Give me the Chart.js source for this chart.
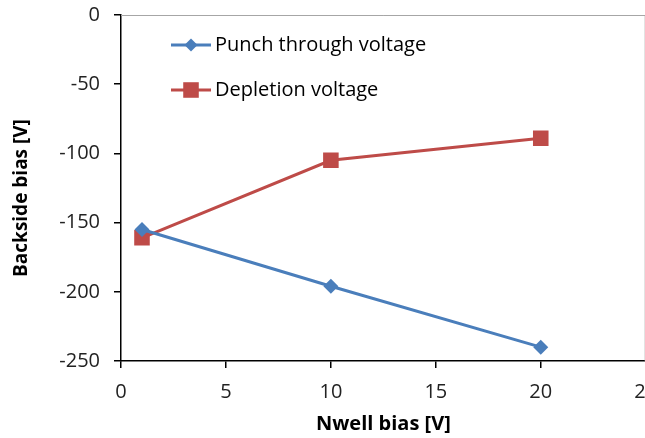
<!DOCTYPE html>
<html lang="en">
<head>
    <meta charset="utf-8">
    <title>Backside bias vs Nwell bias</title>
    <script src="https://cdn.jsdelivr.net/npm/chart.js"></script>
    <style>
        html, body { margin: 0; padding: 0; background: #fff; overflow: hidden; }
        #wrap { width: 680px; height: 438px; }
    </style>
</head>
<body>
    <div id="wrap">
        <canvas id="biasChart" width="680" height="438"></canvas>
    </div>
    <script>
        // values
        const nwellBias = [1, 10, 20];
        const punchThrough = [-155, -196, -240];
        const depletion = [-161, -105, -89];
        const xTicks = [0, 5, 10, 15, 20, 25];
        const yTicks = [0, -50, -100, -150, -200, -250];

        const BLUE = '#4A7EBB';
        const RED = '#BE4B48';
        const FONT = "'Open Sans', sans-serif";

        // plot frame (gray top/right edge), y title and the legend inside the plot area
        const framePlugin = {
            id: 'frame',
            beforeDatasetsDraw(chart) {
                const a = chart.chartArea, ctx = chart.ctx;
                ctx.save();
                ctx.strokeStyle = '#a6a6a6';
                ctx.lineWidth = 1;
                ctx.beginPath();
                ctx.moveTo(a.left, a.top + 0.5);
                ctx.lineTo(a.right - 0.5, a.top + 0.5);
                ctx.lineTo(a.right - 0.5, a.bottom);
                ctx.stroke();
                ctx.restore();
            },
            afterDraw(chart) {
                const a = chart.chartArea, ctx = chart.ctx;
                ctx.save();
                // y axis title, sits a bit below the plot middle like the original
                ctx.translate(22, (a.top + a.bottom) / 2 + 10);
                ctx.rotate(-Math.PI / 2);
                ctx.font = 'bold 19px ' + FONT;
                ctx.fillStyle = '#000';
                ctx.textAlign = 'center';
                ctx.textBaseline = 'middle';
                ctx.fillText('Backside bias [V]', 0, 0);
                ctx.restore();

                const items = [
                    { text: 'Punch through voltage', color: BLUE, style: 'rectRot', r: 6.5 },
                    { text: 'Depletion voltage', color: RED, style: 'rect', r: 11 }
                ];
                ctx.save();
                items.forEach((it, i) => {
                    const y = a.top + 30 + i * 45;
                    const x0 = a.left + 50;
                    ctx.strokeStyle = it.color;
                    ctx.lineWidth = 3;
                    ctx.beginPath();
                    ctx.moveTo(x0, y);
                    ctx.lineTo(x0 + 40, y);
                    ctx.stroke();
                    ctx.fillStyle = it.color;
                    Chart.helpers.drawPoint(ctx, { pointStyle: it.style, radius: it.r, borderWidth: 0 }, x0 + 20, y);
                    ctx.fillStyle = '#000';
                    ctx.font = '20px ' + FONT;
                    ctx.textBaseline = 'middle';
                    ctx.textAlign = 'left';
                    ctx.fillText(it.text, x0 + 44, y);
                });
                ctx.restore();
            }
        };

        const ctx = document.getElementById('biasChart').getContext('2d');
        new Chart(ctx, {
            type: 'line',
            data: {
                datasets: [{
                    label: 'Punch through voltage',
                    data: nwellBias.map((x, i) => ({ x: x, y: punchThrough[i] })),
                    borderColor: BLUE,
                    backgroundColor: BLUE,
                    borderWidth: 3,
                    pointStyle: 'rectRot',
                    pointRadius: 7.5,
                    pointBorderWidth: 0,
                    tension: 0
                }, {
                    label: 'Depletion voltage',
                    data: nwellBias.map((x, i) => ({ x: x, y: depletion[i] })),
                    borderColor: RED,
                    backgroundColor: RED,
                    borderWidth: 3,
                    pointStyle: 'rect',
                    pointRadius: 11,
                    pointBorderWidth: 0,
                    tension: 0
                }]
            },
            options: {
                responsive: false,
                animation: false,
                layout: { padding: { top: 15, right: 34.3, left: 0, bottom: 0 } },
                plugins: {
                    legend: { display: false },
                    tooltip: { enabled: false }
                },
                scales: {
                    x: {
                        type: 'linear',
                        min: 0,
                        max: 25,
                        afterBuildTicks: s => { s.ticks = xTicks.map(v => ({ value: v })); },
                        afterFit: s => { s.height = 77; s.paddingLeft = 0; s.paddingRight = 0; },
                        border: { color: '#000', width: 1.5 },
                        grid: { drawOnChartArea: false, drawTicks: true, tickLength: 7, color: '#000', lineWidth: 1.5 },
                        ticks: { color: '#222', font: { family: FONT, size: 20 }, padding: 12, maxRotation: 0 },
                        title: { display: true, text: 'Nwell bias [V]', color: '#000', font: { family: FONT, size: 20, weight: 'bold', lineHeight: 1 }, padding: { top: 0 } }
                    },
                    y: {
                        type: 'linear',
                        min: -250,
                        max: 0,
                        afterBuildTicks: s => { s.ticks = yTicks.map(v => ({ value: v })); },
                        afterFit: s => { s.width = 121; s.paddingTop = 0; s.paddingBottom = 0; },
                        border: { color: '#000', width: 1.5 },
                        grid: { drawOnChartArea: false, drawTicks: true, tickLength: 7, color: '#000', lineWidth: 1.5 },
                        ticks: { color: '#222', font: { family: FONT, size: 20 }, padding: 14 }
                    }
                }
            },
            plugins: [framePlugin]
        });
    </script>
</body>
</html>
